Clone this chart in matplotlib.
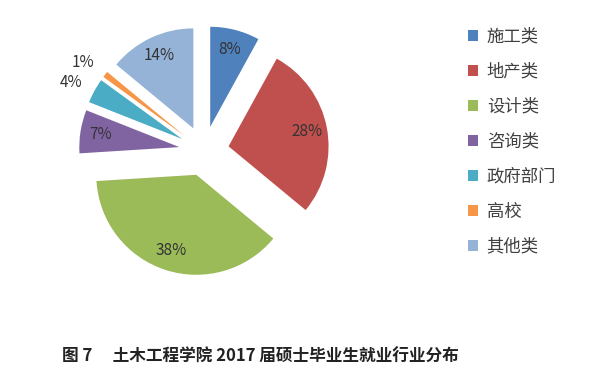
import numpy as np
import matplotlib
matplotlib.use("Agg")
import matplotlib.pyplot as plt

plt.rcParams["font.family"] = ["Noto Sans CJK SC", "DejaVu Sans"]

categories = ["施工类", "地产类", "设计类", "咨询类", "政府部门", "高校", "其他类"]
shares = [8, 28, 38, 7, 4, 1, 14]
colors = ["#4f81bd", "#c0504d", "#9bbb59", "#8064a2", "#4bacc6", "#f79646", "#95b3d7"]
caption = "图 7　 土木工程学院 2017 届硕士毕业生就业行业分布"

W, H = 601, 383
fig = plt.figure(figsize=(W / 100, H / 100), dpi=100)
ax = fig.add_axes([54 / W, 82 / H, 300 / W, 300 / H])

explode = [0.25] * len(shares)
wedges, texts, autotexts = ax.pie(
    shares, colors=colors, explode=explode, startangle=90, counterclock=False,
    autopct="%d%%", pctdistance=0.8,
    textprops=dict(fontsize=11, color="#333333"),
    wedgeprops=dict(linewidth=0))
ax.set_xlim(-1.5, 1.5)
ax.set_ylim(-1.5, 1.5)
ax.set_aspect("equal")

# small slices: put labels outside
for w, t, v in zip(wedges, autotexts, shares):
    if v <= 4:
        ang = np.deg2rad((w.theta1 + w.theta2) / 2 + 1.5)
        r = 1.5
        t.set_position((r * np.cos(ang), r * np.sin(ang)))

fig.legend(wedges, categories, loc="upper left",
           bbox_to_anchor=(452 / W, (H - 12) / H), frameon=False,
           fontsize=12.5, handlelength=0.6, handleheight=0.6, handletextpad=0.5,
           labelspacing=0.98, labelcolor="#404040")

fig.text(62 / W, (H - 357) / H, caption, fontsize=12, fontweight="bold",
         color="#222222", va="center", ha="left")

fig.savefig("out.png", dpi=100)
